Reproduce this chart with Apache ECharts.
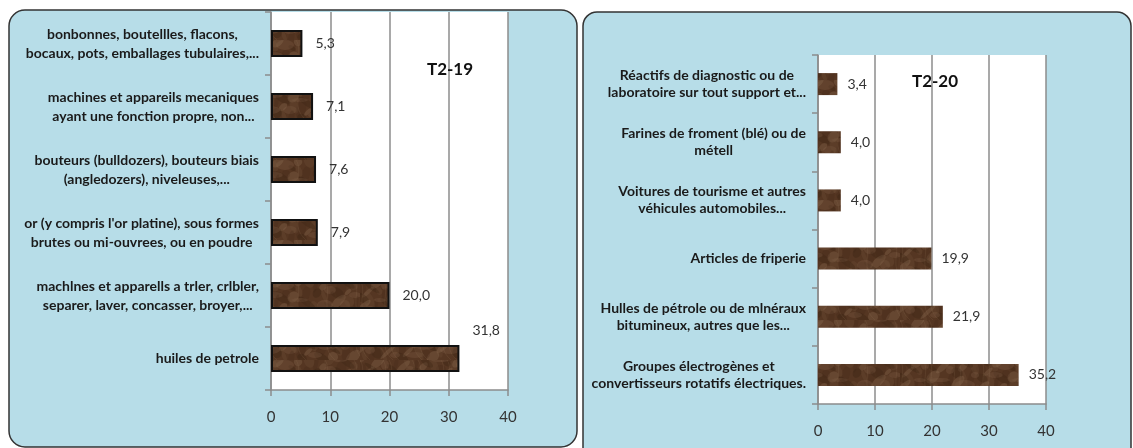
<!DOCTYPE html>
<html>
<head>
<meta charset="utf-8">
<script src="https://cdn.jsdelivr.net/npm/echarts@6/dist/echarts.min.js"></script>
<style>
  html, body { margin: 0; padding: 0; background: #fff; }
  #chart { width: 1133px; height: 448px; }
</style>
</head>
<body>
<div id="chart"></div>
<script>
// T2-19 (top to bottom)
const cats19 = [
  'bonbonnes, boutellles, flacons,\nbocaux, pots, emballages tubulaires,...',
  'machines et appareils mecaniques\nayant une fonction propre, non...',
  'bouteurs (bulldozers), bouteurs biais\n(angledozers), niveleuses,...',
  "or (y compris l'or platine), sous formes\nbrutes ou mi-ouvrees, ou en poudre",
  'machlnes et apparells a trler, crlbler,\nseparer, laver, concasser, broyer,...',
  'huiles de petrole'
]
const vals19 = [5.3, 7.1, 7.6, 7.9, 20.0, 31.8]

// T2-20 (top to bottom)
const cats20 = [
  'Réactifs de diagnostic ou de\nlaboratoire sur tout support et...',
  'Farines de froment (blé) ou de\nmétell',
  'Voitures de tourisme et autres\nvéhicules automobiles...',
  'Articles de friperie',
  'Hulles de pétrole ou de mlnéraux\nbitumineux, autres que les...',
  'Groupes électrogènes et\nconvertisseurs rotatifs électriques.'
]
const vals20 = [3.4, 4.0, 4.0, 19.9, 21.9, 35.2]

const xTicks = [0, 10, 20, 30, 40]

const FONT = 'Lato'

// brown marble-ish texture for the bars
function marble() {
  const c = document.createElement('canvas')
  c.width = 180; c.height = 40
  const g = c.getContext('2d')
  g.fillStyle = '#553622'
  g.fillRect(0, 0, c.width, c.height)
  const tones = ['#80604a', '#36200f', '#6e4e38', '#442a1a', '#8d6f55']
  for (let i = 0; i < 110; i++) {
    const x = (i * 47) % 180
    const y = (i * 23) % 40
    g.fillStyle = tones[i % tones.length]
    g.globalAlpha = 0.3
    g.beginPath()
    g.ellipse(x, y, 4 + (i % 7), 2 + (i % 4), (i % 5) * 0.6, 0, Math.PI * 2)
    g.fill()
  }
  g.globalAlpha = 0.2
  g.strokeStyle = '#a08468'
  g.lineWidth = 0.7
  for (let i = 0; i < 10; i++) {
    g.beginPath()
    const x0 = (i * 29) % 180
    g.moveTo(x0, 0)
    g.bezierCurveTo(x0 + 8, 12, x0 - 6, 26, x0 + 10, 40)
    g.stroke()
  }
  return c
}
const texture = { image: marble(), repeat: 'repeat' }

const fmt = v => v.toFixed(1).replace('.', ',')

function catLabel(size, lh) {
  return {
    color: '#1a1a1a',
    fontFamily: FONT,
    fontWeight: 'bold',
    fontSize: size,
    margin: 12,
    formatter: v => v.split('\n').map(l => '{c|' + l + '}').join('\n'),
    rich: { c: { align: 'center', fontFamily: FONT, fontWeight: 'bold', fontSize: size, lineHeight: lh, color: '#1a1a1a' } }
  }
}

function xAxis(gridIndex) {
  return {
    type: 'value', gridIndex, min: 0, max: 40, interval: 10,
    axisLine: { show: true, lineStyle: { color: '#8c8c8c', width: 1.5 } },
    axisTick: { show: true, length: 6, lineStyle: { color: '#8c8c8c', width: 1.5 } },
    axisLabel: { color: '#333', fontFamily: FONT, fontSize: 15, margin: 20,
      formatter: v => xTicks.includes(v) ? String(v) : '' },
    splitLine: { show: true, lineStyle: { color: '#8c8c8c', width: 1.5 } }
  }
}

function yAxis(gridIndex, data, size, lh) {
  return {
    type: 'category', gridIndex, data, inverse: true,
    axisLine: { show: true, lineStyle: { color: '#8c8c8c', width: 1.5 } },
    axisTick: { show: true, length: 6, lineStyle: { color: '#8c8c8c', width: 1.5 } },
    axisLabel: catLabel(size, lh),
    splitLine: { show: false }
  }
}

const chart = echarts.init(document.getElementById('chart'))
chart.setOption({
  animation: false,
  graphic: {
    elements: [
      { type: 'rect', z: -10, shape: { x: 9, y: 10, width: 568, height: 437, r: 16 },
        style: { fill: '#b7dde8', stroke: '#333', lineWidth: 1.5 } },
      { type: 'rect', z: -10, shape: { x: 583, y: 12, width: 548, height: 470, r: 14 },
        style: { fill: '#b7dde8', stroke: '#333', lineWidth: 1.5 } },
      { type: 'text', z: 10, x: 450, y: 70,
        style: { text: 'T2-19', fontFamily: FONT, fontWeight: 'bold', fontSize: 17, fill: '#111', align: 'center', verticalAlign: 'middle' } },
      { type: 'text', z: 10, x: 935, y: 82,
        style: { text: 'T2-20', fontFamily: FONT, fontWeight: 'bold', fontSize: 17, fill: '#111', align: 'center', verticalAlign: 'middle' } }
    ]
  },
  grid: [
    { left: 271, right: 625, top: 12, bottom: 58, show: true, backgroundColor: '#fff', borderWidth: 0 },
    { left: 818, right: 87, top: 55, bottom: 44, show: true, backgroundColor: '#fff', borderWidth: 0 }
  ],
  xAxis: [xAxis(0), xAxis(1)],
  yAxis: [yAxis(0, cats19, 14, 19), yAxis(1, cats20, 14, 17)],
  series: [
    {
      type: 'bar', xAxisIndex: 0, yAxisIndex: 0, barWidth: 27,
      data: vals19.map((v, i) => i === 5
        ? { value: v, label: { offset: [0, -28] } }
        : v),
      itemStyle: { color: texture, borderColor: '#111', borderWidth: 2 },
      label: { show: true, position: 'right', distance: 13, color: '#333', fontFamily: FONT, fontSize: 14,
        formatter: p => fmt(p.value) }
    },
    {
      type: 'bar', xAxisIndex: 1, yAxisIndex: 1, barWidth: 22,
      data: vals20,
      itemStyle: { color: texture },
      label: { show: true, position: 'right', distance: 10, color: '#333', fontFamily: FONT, fontSize: 14,
        formatter: p => fmt(p.value) }
    }
  ]
})
</script>
</body>
</html>
